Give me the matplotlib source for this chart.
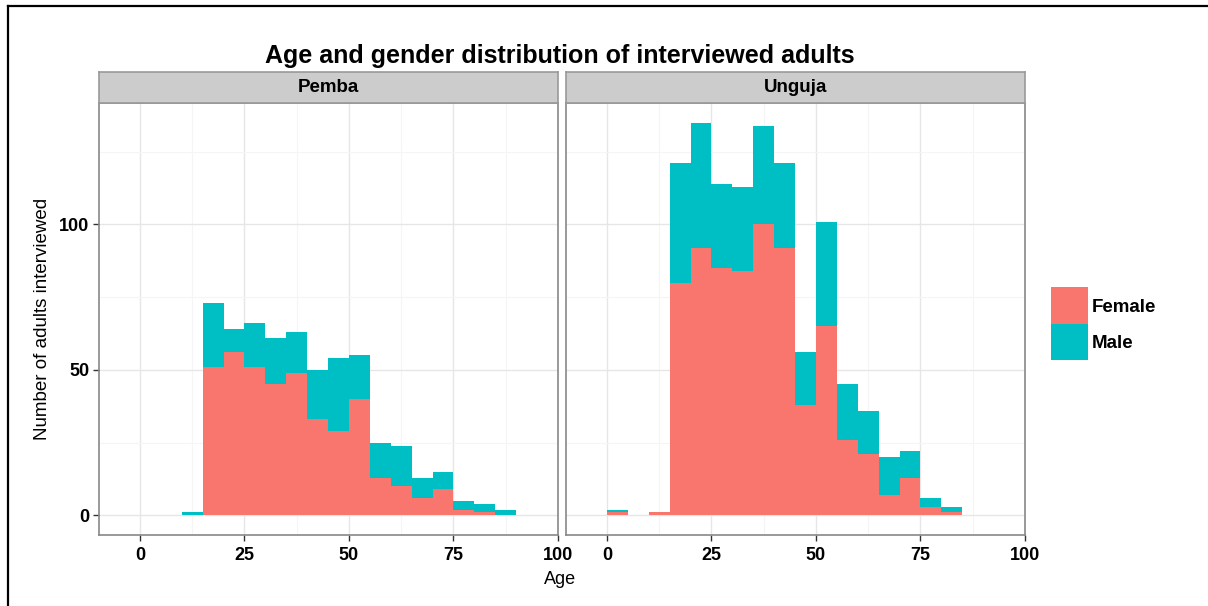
import matplotlib
matplotlib.use("Agg")
import matplotlib.pyplot as plt
from matplotlib.lines import Line2D
from matplotlib.patches import Rectangle
import numpy as np

plt.rcParams['font.family'] = ['Liberation Sans', 'DejaVu Sans']

# histogram bins (age, width 5)
bin_starts = [0, 5, 10, 15, 20, 25, 30, 35, 40, 45, 50, 55, 60, 65, 70, 75, 80, 85]
bin_width = 5

regions = ["Pemba", "Unguja"]
female = {
    "Pemba":  [0, 0, 0, 51, 56, 51, 45, 49, 33, 29, 40, 13, 10, 6, 9, 2, 1, 0],
    "Unguja": [1, 0, 1, 80, 92, 85, 84, 100, 92, 38, 65, 26, 21, 7, 13, 3, 1, 0],
}
male = {
    "Pemba":  [0, 0, 1, 22, 8, 15, 16, 14, 17, 25, 15, 12, 14, 7, 6, 3, 3, 2],
    "Unguja": [1, 0, 0, 41, 43, 29, 29, 34, 29, 18, 36, 19, 15, 13, 9, 3, 2, 0],
}

x_ticks = [0, 25, 50, 75, 100]
y_ticks = [0, 50, 100]

female_col = "#F8766D"
male_col = "#00BFC4"

W, H = 1208, 606
fig = plt.figure(figsize=(W / 100, H / 100), dpi=100)


def px_rect(left, top, right, bottom):
    return [left / W, 1 - bottom / H, (right - left) / W, (bottom - top) / H]


panels = [(99, 558), (566, 1025)]
panel_top, panel_bottom, strip_top = 103, 535, 72

for i, (region, (left, right)) in enumerate(zip(regions, panels)):
    ax = fig.add_axes(px_rect(left, panel_top, right, panel_bottom))
    f = np.array(female[region])
    m = np.array(male[region])
    ax.bar(bin_starts, f, width=bin_width, align='edge', color=female_col,
           linewidth=0, zorder=3)
    ax.bar(bin_starts, m, width=bin_width, align='edge', bottom=f,
           color=male_col, linewidth=0, zorder=3)

    ax.set_xlim(-9.8, 99.7)
    ax.set_ylim(-6.75, 141.75)
    ax.set_xticks(x_ticks)
    ax.set_yticks(y_ticks)
    ax.set_xticks([12.5, 37.5, 62.5, 87.5], minor=True)
    ax.set_yticks([25, 75, 125], minor=True)
    ax.grid(True, which='major', color='#E6E6E6', linewidth=1.0, zorder=0)
    ax.grid(True, which='minor', color='#F5F5F5', linewidth=0.8, zorder=0)
    ax.set_axisbelow(True)
    ax.tick_params(which='minor', length=0)
    ax.tick_params(which='major', length=4, width=1, color='#333333',
                   labelsize=13, pad=3)
    ax.tick_params(axis='x', pad=5)
    for lab in ax.get_xticklabels() + ax.get_yticklabels():
        lab.set_fontweight('bold')
    for sp in ax.spines.values():
        sp.set_color('#888888')
        sp.set_linewidth(1.2)
    if i > 0:
        ax.tick_params(axis='y', left=False, labelleft=False)
    else:
        ax.set_ylabel("Number of adults interviewed", fontsize=13.5, labelpad=6)

    # facet strip
    sax = fig.add_axes(px_rect(left, strip_top, right, panel_top))
    sax.set_facecolor('#CCCCCC')
    sax.set_xticks([])
    sax.set_yticks([])
    for sp in sax.spines.values():
        sp.set_color('#999999')
        sp.set_linewidth(1.2)
    sax.text(0.5, 0.5, region, ha='center', va='center', fontsize=13.5,
             fontweight='bold', transform=sax.transAxes)

fig.text(560 / W, 1 - 56 / H, "Age and gender distribution of interviewed adults",
         ha='center', va='center', fontsize=18, fontweight='bold')
fig.text(560 / W, 1 - 579 / H, "Age", ha='center', va='center', fontsize=13)

# legend keys
for j, (lab, col) in enumerate([("Female", female_col), ("Male", male_col)]):
    top = 287 + j * 36.5
    fig.add_artist(Rectangle((1051 / W, 1 - (top + 36.5) / H), 36.5 / W, 36.5 / H,
                             facecolor=col, edgecolor='none',
                             transform=fig.transFigure))
    fig.text(1092 / W, 1 - (top + 20) / H, lab, ha='left', va='center',
             fontsize=13.5, fontweight='bold')

# frame lines along the top and left edge
fig.add_artist(Line2D([8 / W, 8 / W], [0, 1 - 6 / H], color='black', linewidth=1.6,
                      transform=fig.transFigure))
fig.add_artist(Line2D([8 / W, 1], [1 - 6 / H, 1 - 6 / H], color='black',
                      linewidth=1.6, transform=fig.transFigure))

fig.savefig("out.png", dpi=100)
